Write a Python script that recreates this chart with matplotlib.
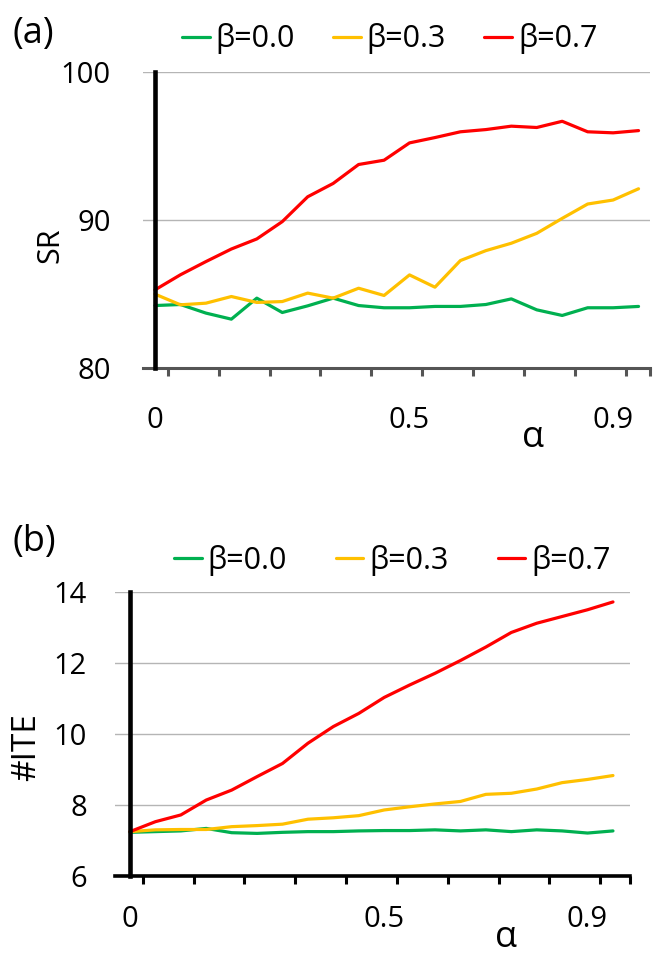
import matplotlib
matplotlib.use('Agg')
import matplotlib.pyplot as plt

plt.rcParams['font.family'] = ['Open Sans', 'DejaVu Sans']

# ---------------- data ----------------
alpha = [0.00, 0.05, 0.10, 0.15, 0.20, 0.25, 0.30, 0.35, 0.40, 0.45,
         0.50, 0.55, 0.60, 0.65, 0.70, 0.75, 0.80, 0.85, 0.90, 0.95]
labels = ['β=0.0', 'β=0.3', 'β=0.7']
colors = ['#00B050', '#FFC000', '#FF0000']

sr_b00 = [84.22, 84.29, 83.71, 83.30, 84.72, 83.75, 84.20, 84.72, 84.22, 84.07,
          84.07, 84.16, 84.16, 84.29, 84.67, 83.93, 83.55, 84.07, 84.07, 84.16]
sr_b03 = [84.99, 84.27, 84.38, 84.83, 84.43, 84.49, 85.06, 84.72, 85.39, 84.90,
          86.29, 85.46, 87.26, 87.93, 88.43, 89.10, 90.11, 91.08, 91.35, 92.11]
sr_b07 = [85.28, 86.30, 87.19, 88.04, 88.72, 89.89, 91.57, 92.47, 93.75, 94.04,
          95.21, 95.57, 95.96, 96.11, 96.34, 96.25, 96.67, 95.96, 95.89, 96.04]

ite_b00 = [7.23, 7.25, 7.27, 7.34, 7.22, 7.20, 7.23, 7.25, 7.25, 7.27,
           7.28, 7.28, 7.30, 7.27, 7.30, 7.25, 7.30, 7.27, 7.21, 7.27]
ite_b03 = [7.25, 7.30, 7.31, 7.31, 7.39, 7.42, 7.46, 7.60, 7.64, 7.70,
           7.86, 7.95, 8.03, 8.10, 8.30, 8.33, 8.45, 8.63, 8.72, 8.83]
ite_b07 = [7.25, 7.53, 7.72, 8.14, 8.42, 8.80, 9.17, 9.74, 10.21, 10.58,
           11.03, 11.38, 11.71, 12.07, 12.45, 12.86, 13.12, 13.31, 13.50, 13.72]

xtick_pos = [0.0, 0.5, 0.9]
xtick_labels = ['0', '0.5', '0.9']
sr_ticks = [80, 90, 100]
ite_ticks = [6, 8, 10, 12, 14]
minor_pos = [0.025, 0.125, 0.225, 0.325, 0.425, 0.525, 0.625, 0.725, 0.825, 0.925]

# ---------------- figure ----------------
W, H = 653, 960
fig = plt.figure(figsize=(W / 100, H / 100), dpi=100)


def box(l, t, r, b):
    return [l / W, (H - b) / H, (r - l) / W, (b - t) / H]


def setup(ax, series, yticks, xl, yl, axcol, axw, ypad, xpad, leg_xy, colsp):
    for s, c, lab in zip(series, colors, labels):
        ax.plot(alpha, s, color=c, lw=2.3, label=lab, solid_capstyle='round', zorder=3)
    ax.set_xlim(*xl)
    ax.set_ylim(*yl)
    for sp in ['top', 'right']:
        ax.spines[sp].set_visible(False)
    ax.spines['left'].set_position(('data', 0))
    ax.spines['left'].set_linewidth(3.3)
    ax.spines['left'].set_color('black')
    ax.spines['left'].set_zorder(5)
    ax.spines['bottom'].set_linewidth(axw)
    ax.spines['bottom'].set_color(axcol)
    ax.set_yticks(yticks)
    ax.set_yticklabels([str(v) for v in yticks])
    ax.tick_params(axis='y', length=0, pad=ypad, labelsize=21)
    ax.yaxis.grid(True, color='#b5b5b5', lw=1.0)
    ax.set_axisbelow(True)
    ax.set_xticks(xtick_pos)
    ax.set_xticklabels(xtick_labels)
    ax.tick_params(axis='x', which='major', length=0, pad=xpad, labelsize=21)
    ax.set_xticks(minor_pos + [xl[1]], minor=True)
    ax.tick_params(axis='x', which='minor', direction='out', length=6,
                   width=2.2, color=axcol)
    ax.legend(loc='center left', bbox_to_anchor=(leg_xy[0] / W, 1 - leg_xy[1] / H),
              bbox_transform=fig.transFigure, ncol=3, frameon=False, fontsize=22,
              handlelength=0.9, handletextpad=0.2, columnspacing=colsp,
              borderpad=0, borderaxespad=0)


# top panel (a)
ax1 = fig.add_axes(box(143, 72, 650, 368))
setup(ax1, [sr_b00, sr_b03, sr_b07], sr_ticks, (-0.0236, 0.9725), (80, 100),
      '#555555', 2.2, 32, 27, (182, 39), 1.25)
fig.text(12 / W, 1 - 34 / H, '(a)', fontsize=26, ha='left', va='center')
fig.text(50 / W, 1 - 245 / H, 'SR', fontsize=22, rotation=90, ha='center', va='center')
fig.text(533 / W, 1 - 438 / H, 'α', fontsize=26, ha='center', va='center')

# bottom panel (b)
ax2 = fig.add_axes(box(115, 592, 630, 876))
setup(ax2, [ite_b00, ite_b03, ite_b07], ite_ticks, (-0.0295, 0.9835), (6, 14),
      'black', 2.6, 31, 21, (174, 560), 1.6)
fig.text(12 / W, 1 - 542 / H, '(b)', fontsize=26, ha='left', va='center')
fig.text(27 / W, 1 - 747 / H, '#ITE', fontsize=24, rotation=90, ha='center', va='center')
fig.text(506 / W, 1 - 938 / H, 'α', fontsize=26, ha='center', va='center')

fig.savefig('out.png', dpi=100)
